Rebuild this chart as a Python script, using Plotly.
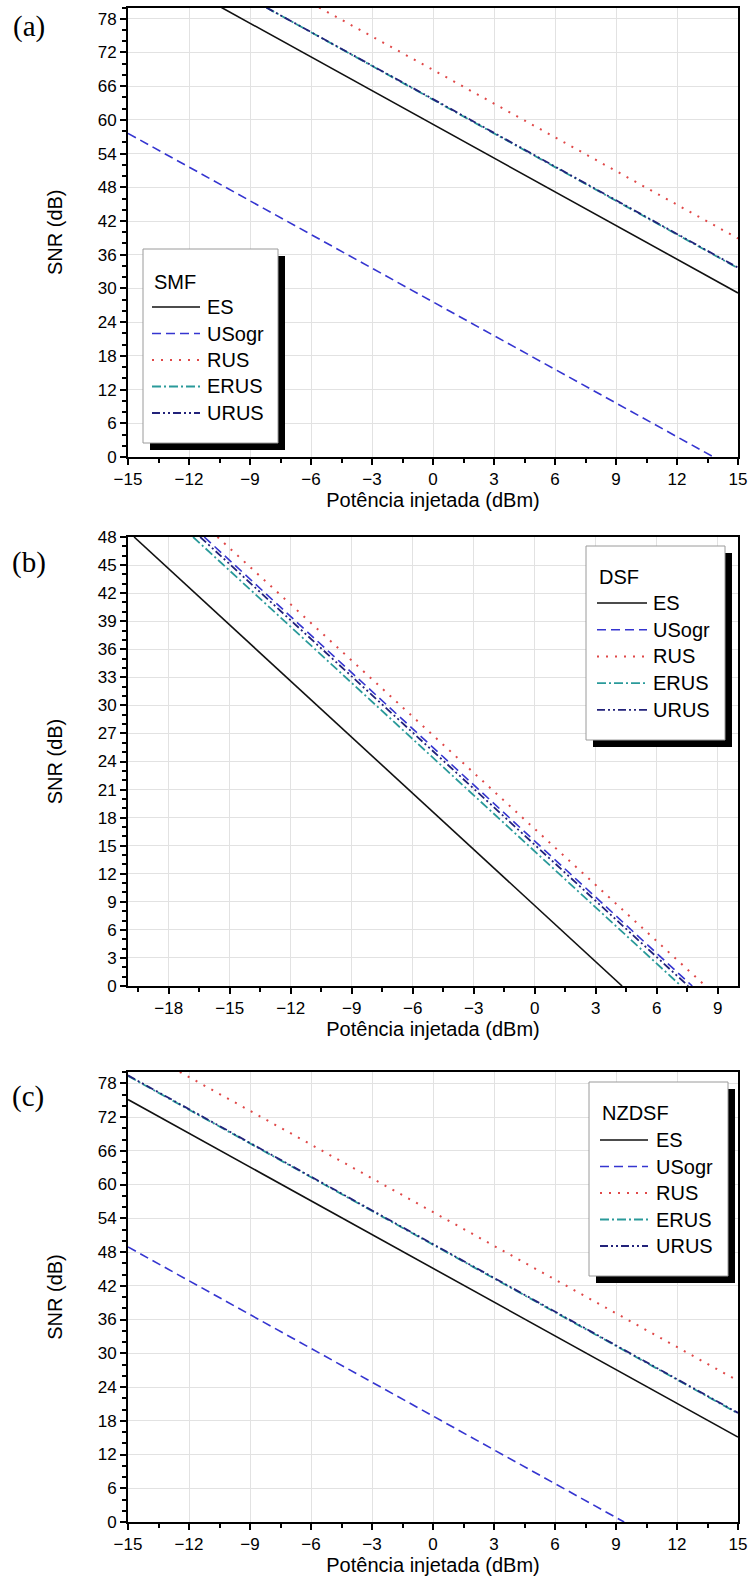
import plotly.graph_objects as go

W, H = 751, 1582

SERIES = ["ES", "USogr", "RUS", "ERUS", "URUS"]

# ---------------- data ----------------
# (a) SMF
smf_es_x = [-10.4, 0, 15]
smf_es_y = [80, 59.2, 29.2]
smf_usogr_x = [-15, 0, 13.8]
smf_usogr_y = [57.6, 27.6, 0]
smf_rus_x = [-5.6, 0, 15]
smf_rus_y = [80, 68.9, 38.9]
smf_erus_x = [-8.2, 0, 15]
smf_erus_y = [80, 63.6, 33.6]
smf_urus_x = [-8.2, 0, 15]
smf_urus_y = [80, 63.7, 33.7]

# (b) DSF
dsf_es_x = [-19.7, -6, 4.3]
dsf_es_y = [48, 20.6, 0]
dsf_usogr_x = [-16.25, 0, 7.75]
dsf_usogr_y = [48, 15.5, 0]
dsf_rus_x = [-15.6, 0, 8.4]
dsf_rus_y = [48, 16.8, 0]
dsf_erus_x = [-16.8, 0, 7.2]
dsf_erus_y = [48, 14.4, 0]
dsf_urus_x = [-16.45, 0, 7.55]
dsf_urus_y = [48, 15.1, 0]

# (c) NZDSF
nz_es_x = [-15, 0, 15]
nz_es_y = [75.1, 45.1, 15.1]
nz_usogr_x = [-15, 0, 9.4]
nz_usogr_y = [48.9, 18.9, 0]
nz_rus_x = [-12.45, 0, 15]
nz_rus_y = [80, 55.1, 25.1]
nz_erus_x = [-15, 0, 15]
nz_erus_y = [79.3, 49.3, 19.3]
nz_urus_x = [-15, 0, 15]
nz_urus_y = [79.4, 49.4, 19.4]

PANEL_NAMES = ["SMF", "DSF", "NZDSF"]
PANEL_LABELS = ["(a)", "(b)", "(c)"]
X_TITLE = "Potência injetada (dBm)"
Y_TITLE = "SNR (dB)"

# ---------------- styles ----------------
COLORS = {"ES": "#111111", "USogr": "#3535d0", "RUS": "#e04848",
          "ERUS": "#2a9a9a", "URUS": "#22227a"}
DASH = {"ES": "solid", "USogr": "9px,5px", "RUS": "2px,7px",
        "ERUS": "9px,3px,2px,3px", "URUS": "8px,3px,2px,3px,2px,3px"}
WIDTH = {"ES": 1.6, "USogr": 1.6, "RUS": 2.0, "ERUS": 1.8, "URUS": 1.8}

panels = [
    {"data": {"ES": (smf_es_x, smf_es_y), "USogr": (smf_usogr_x, smf_usogr_y),
              "RUS": (smf_rus_x, smf_rus_y), "ERUS": (smf_erus_x, smf_erus_y),
              "URUS": (smf_urus_x, smf_urus_y)},
     "xr": [-15, 15], "yr": [0, 80], "ydt": 6, "yminor": 2,
     "top": 7.5, "bottom": 457,
     "legend": {"box": (143, 249, 278, 443), "title": (152, 282), "y0": 307, "dy": 26.5,
                "s0": 152, "s1": 200, "tx": 205},
     "label": (29, 27)},
    {"data": {"ES": (dsf_es_x, dsf_es_y), "USogr": (dsf_usogr_x, dsf_usogr_y),
              "RUS": (dsf_rus_x, dsf_rus_y), "ERUS": (dsf_erus_x, dsf_erus_y),
              "URUS": (dsf_urus_x, dsf_urus_y)},
     "xr": [-20, 10], "yr": [0, 48], "ydt": 3, "yminor": 1,
     "top": 537, "bottom": 986,
     "legend": {"box": (586, 546, 725, 740), "title": (597, 577), "y0": 603, "dy": 26.7,
                "s0": 597, "s1": 647, "tx": 651},
     "label": (29, 562)},
    {"data": {"ES": (nz_es_x, nz_es_y), "USogr": (nz_usogr_x, nz_usogr_y),
              "RUS": (nz_rus_x, nz_rus_y), "ERUS": (nz_erus_x, nz_erus_y),
              "URUS": (nz_urus_x, nz_urus_y)},
     "xr": [-15, 15], "yr": [0, 80], "ydt": 6, "yminor": 2,
     "top": 1072, "bottom": 1522,
     "legend": {"box": (589, 1082, 728, 1276), "title": (600, 1113), "y0": 1140, "dy": 26.5,
                "s0": 600, "s1": 648, "tx": 654},
     "label": (28, 1096)},
]

FONT = "Liberation Sans, Arial, sans-serif"
SERIF = "Liberation Serif, Times New Roman, serif"
LEFT, RIGHT = 128, 738


def px(x):
    return x / W


def py(y):
    return 1 - y / H


fig = go.Figure()
shapes = []
annotations = []
layout_axes = {}

for i, p in enumerate(panels):
    n = "" if i == 0 else str(i + 1)
    xa, ya = "x" + n, "y" + n
    for s in SERIES:
        xs, ys = p["data"][s]
        fig.add_trace(go.Scatter(
            x=xs, y=ys, mode="lines", name=s, showlegend=False,
            xaxis=xa, yaxis=ya,
            line=dict(color=COLORS[s], dash=DASH[s], width=WIDTH[s])))

    common = dict(showline=True, mirror=True, linecolor="black", linewidth=2,
                  ticks="outside", ticklen=6, tickwidth=1.5, tickcolor="black",
                  showgrid=True, gridcolor="#e2e2e2", gridwidth=1, zeroline=False,
                  tickfont=dict(family=FONT, size=17, color="black"),
                  automargin=False)
    layout_axes["xaxis" + n] = dict(
        common, domain=[px(LEFT), px(RIGHT)], anchor=ya, range=p["xr"],
        tick0=0, dtick=3,
        minor=dict(dtick=1.5, ticklen=4, ticks="outside", tickcolor="black",
                   tickwidth=1.5, showgrid=False),
        title=dict(text=X_TITLE, font=dict(family=FONT, size=20, color="black"),
                   standoff=2))
    layout_axes["yaxis" + n] = dict(
        common, domain=[py(p["bottom"]), py(p["top"])], anchor=xa, range=p["yr"],
        tick0=0, dtick=p["ydt"],
        minor=dict(dtick=p["yminor"], ticklen=4, ticks="outside", tickcolor="black",
                   tickwidth=1.5, showgrid=False),
        title=dict(text=Y_TITLE, font=dict(family=FONT, size=20, color="black"),
                   standoff=30))

    # legend drawn as a boxed key with drop shadow
    lg = p["legend"]
    bx0, by0, bx1, by1 = lg["box"]
    shapes.append(dict(type="rect", xref="paper", yref="paper", layer="above",
                       x0=px(bx0 + 7), x1=px(bx1 + 7), y0=py(by1 + 7), y1=py(by0 + 7),
                       fillcolor="black", line=dict(width=0)))
    shapes.append(dict(type="rect", xref="paper", yref="paper", layer="above",
                       x0=px(bx0), x1=px(bx1), y0=py(by1), y1=py(by0),
                       fillcolor="white", line=dict(color="#9a9a9a", width=1)))
    annotations.append(dict(xref="paper", yref="paper", x=px(lg["title"][0]),
                            y=py(lg["title"][1]), text=PANEL_NAMES[i], showarrow=False,
                            xanchor="left", yanchor="middle",
                            font=dict(family=FONT, size=20, color="black")))
    for k, s in enumerate(SERIES):
        yy = lg["y0"] + k * lg["dy"]
        shapes.append(dict(type="line", xref="paper", yref="paper", layer="above",
                           x0=px(lg["s0"]), x1=px(lg["s1"]), y0=py(yy), y1=py(yy),
                           line=dict(color=COLORS[s], dash=DASH[s], width=WIDTH[s])))
        annotations.append(dict(xref="paper", yref="paper", x=px(lg["tx"]), y=py(yy),
                                text=s, showarrow=False, xanchor="left",
                                yanchor="middle",
                                font=dict(family=FONT, size=20, color="black")))
    annotations.append(dict(xref="paper", yref="paper", x=px(p["label"][0]),
                            y=py(p["label"][1]), text=PANEL_LABELS[i], showarrow=False,
                            xanchor="center", yanchor="middle",
                            font=dict(family=SERIF, size=29, color="black")))

fig.update_layout(
    width=W, height=H, margin=dict(l=0, r=0, t=0, b=0),
    template="none", paper_bgcolor="white", plot_bgcolor="white",
    showlegend=False, shapes=shapes, annotations=annotations, **layout_axes)

fig.write_html(
    "out.html",
    config={"displayModeBar": False},
    post_script=("document.body.style.margin='0px';"
                 "document.body.style.overflow='hidden';"
                 "document.documentElement.style.overflow='hidden';"))
